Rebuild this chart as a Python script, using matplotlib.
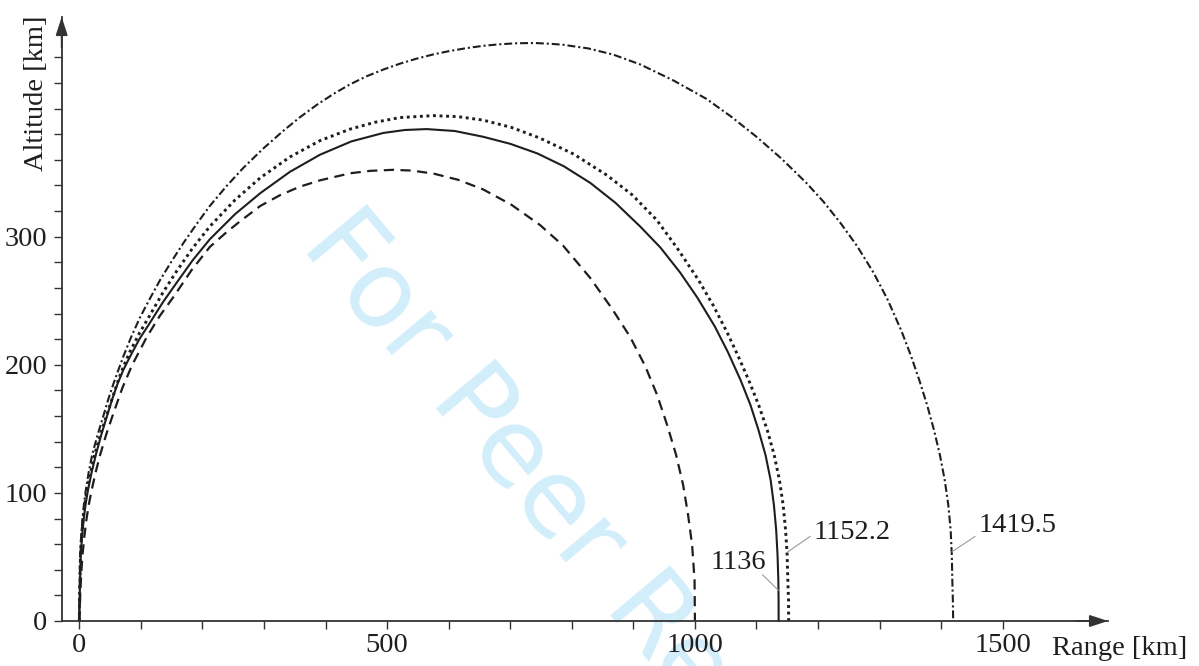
import matplotlib
matplotlib.use("Agg")
import matplotlib.pyplot as plt
from matplotlib.ticker import FixedLocator

# trajectory samples, range [km] vs altitude [km]
range_a = [0, 1, 2, 3.5, 5.5, 8.2, 11.5, 15.5, 20, 26.5, 34, 44, 56, 70, 86, 110,
           130.5, 153, 182.5, 212, 236.5, 261, 294, 326, 358, 391, 440, 472.5, 510,
           540, 575, 615.5, 656, 702, 748.4, 785.7, 829.6, 865.3, 894.6, 919, 938.5,
           954.8, 969.4, 980.8, 988.9, 995.4, 999.4, 1000]
alt_a = [0, 13, 26, 40, 53, 66, 79, 91, 102, 116, 130, 146, 163, 182, 200, 222,
         238, 253, 274, 292, 302.4, 312, 324, 332.4, 339, 344, 349.5, 351.4, 352.2,
         351.6, 349.3, 344.4, 336.9, 324.9, 309.1, 293.1, 268, 243.8, 221.9, 199.2,
         176.6, 153.1, 129.7, 106.3, 82.8, 59.4, 32, 0]

range_b = [0, 0.3, 1, 1.7, 2.5, 4.5, 7, 10.2, 14, 20, 27, 35.5, 45, 53, 62, 71.5,
           82, 97.5, 115, 136, 158, 184, 212, 253, 294, 342, 391, 442, 494, 529, 564,
           610, 656, 700, 744, 787, 830, 871, 911, 944, 976, 1004, 1032.2, 1053.3,
           1074.2, 1090.3, 1103.3, 1114.7, 1123, 1128.3, 1132, 1134.2, 1135.5,
           1135.9, 1136]
alt_b = [0, 13, 26, 40, 53, 66, 79, 91, 102, 116, 130, 145, 160, 172.5, 185, 196,
         206, 220, 233, 249, 264, 281.5, 298, 317.6, 334, 350.6, 364, 374.4, 381,
         383.3, 384, 382.5, 378, 372.5, 365, 355, 342, 326.4, 308, 291.5, 272,
         252.4, 230, 210.2, 188, 168.5, 149, 129.5, 110, 90.5, 71, 51.5, 32, 16, 0]

range_c = [0, 0.3, 0.8, 1.3, 2, 3.7, 6, 9, 12.5, 18.3, 25, 34, 44, 54, 64, 72.5,
           82, 98, 115, 136, 158, 184, 212, 253, 294, 342, 391, 440, 480, 521, 575,
           615, 656, 702, 748, 803, 857, 898, 938, 971, 1006, 1029.7, 1052.6, 1070.5,
           1087.4, 1103.6, 1117.6, 1128.8, 1137.3, 1143.3, 1147.3, 1149.8, 1150.9,
           1152.1, 1152.2]
alt_c = [0, 13, 26, 40, 53, 66, 79, 91, 102, 116, 130, 145, 160, 174.5, 189, 199.5,
         210, 225, 239, 256.5, 273, 291, 308, 328.7, 346, 362.2, 375, 384, 389.3,
         393, 394.5, 393.7, 391, 385.3, 377, 364.5, 348, 332.7, 313, 291.2, 266,
         246.4, 225, 206.5, 188, 168.5, 149, 129.5, 110, 90.5, 71, 51.5, 32, 16, 0]

range_d = [0, 0.15, 0.5, 0.9, 1.5, 3, 5, 7.5, 10.5, 15.2, 21, 29.5, 39, 47, 56,
           63.5, 71.5, 84.5, 98.6, 114.5, 131, 149.5, 169, 190, 212, 239, 266, 298.5,
           331, 358.5, 386, 413, 440, 467, 494, 521, 548, 575, 602, 629, 656, 683,
           710, 740, 765, 786, 826.5, 867, 911, 965, 1019, 1059.5, 1100, 1140.5,
           1181, 1208.5, 1236, 1263, 1290, 1312.5, 1335, 1350.6, 1364.5, 1377.2,
           1388.4, 1398, 1405.8, 1411.6, 1415.4, 1417.3, 1418.1, 1419, 1419.5]
alt_d = [0, 13, 26, 40, 53, 66, 79, 91, 102, 116, 130, 145, 160, 173, 186, 196,
         206.5, 222, 237, 251.5, 266, 280.5, 295, 309.5, 324, 339.4, 353.5, 368.7,
         382.5, 393.3, 403, 411.5, 419, 425.3, 430.5, 435.1, 439, 442.3, 445, 447.2,
         449, 450.2, 451, 451.2, 450.6, 449.8, 447, 442.2, 434.5, 422, 407.5, 393.5,
         378, 361, 342, 327.5, 311, 293, 272, 251.4, 227, 207.5, 188, 168.5, 149,
         129.5, 110, 90.5, 71, 51.5, 32, 16, 0]

# impact labels: text, leader start on curve, leader end, text centre
impact_labels = ["1136", "1152.2", "1419.5"]
leader_from = [(1135.5, 24), (1151, 54), (1417.5, 54)]
leader_to = [(1110, 36), (1187, 66), (1455, 66)]
label_at = [(1070, 46), (1255, 68.8), (1524, 74.2)]

ink = "#1e1e1e"
axis_col = "#333333"
serif = "Liberation Serif"
fs = 20.5

fig = plt.figure(figsize=(11.99, 6.66), dpi=100)
ax = fig.add_axes([61.7 / 1199, 1 - 621 / 666, (1108 - 61.7) / 1199, (621 - 17) / 666])
ax.set_xlim(-28.6, 1671)
ax.set_ylim(0, 471.5)

fig.text(300 / 1199, 1 - 246 / 666, "For Peer Review", rotation=-50,
         rotation_mode="anchor", ha="left", va="baseline", fontsize=77,
         color="#d2eefa", family="DejaVu Sans", zorder=0)
ax.set_zorder(1)
ax.patch.set_alpha(0)

ax.plot(range_a, alt_a, color=ink, lw=1.6, dashes=(4.6, 2.9), clip_on=False)
ax.plot(range_b, alt_b, color=ink, lw=1.5, clip_on=False)
ax.plot(range_c, alt_c, color=ink, lw=2.1, dashes=(1.0, 1.25), clip_on=False,
        dash_capstyle="butt")
ax.plot(range_d, alt_d, color=ink, lw=1.5, dashes=(3.8, 1.4, 1.0, 1.4), clip_on=False)

for txt, p0, p1, pt in zip(impact_labels, leader_from, leader_to, label_at):
    ax.plot([p0[0], p1[0]], [p0[1], p1[1]], color="#9a9a9a", lw=0.8)
    ax.text(pt[0], pt[1], txt, ha="center", va="center", fontsize=fs,
            family=serif, color=ink)

for side in ("top", "right"):
    ax.spines[side].set_visible(False)
for side in ("left", "bottom"):
    ax.spines[side].set_color(axis_col)
    ax.spines[side].set_linewidth(1.3)

ax.xaxis.set_major_locator(FixedLocator([0, 500, 1000, 1500]))
ax.xaxis.set_minor_locator(FixedLocator(list(range(100, 1500, 100))))
ax.yaxis.set_major_locator(FixedLocator([0, 100, 200, 300]))
ax.yaxis.set_minor_locator(FixedLocator(list(range(20, 460, 20))))
ax.tick_params(which="both", direction="out", length=5.5, width=1.0,
               color=axis_col, labelsize=fs, labelcolor=ink)
ax.tick_params(axis="x", pad=3.5)
ax.tick_params(axis="y", pad=5)
for lab in ax.get_xticklabels() + ax.get_yticklabels():
    lab.set_family(serif)

arrow = dict(arrowstyle="-|>,head_length=1.1,head_width=0.36", color=axis_col,
             lw=1.3, shrinkA=0, shrinkB=0, mutation_scale=10)
ax.annotate("", xy=(1, 0), xytext=(0.97, 0), xycoords="axes fraction",
            arrowprops=arrow)
ax.annotate("", xy=(0, 1), xytext=(0, 0.95), xycoords="axes fraction",
            arrowprops=arrow)

fig.text(36.7 / 1199, 1 - 93 / 666, "Altitude [km]", rotation=90, ha="center",
         va="center", fontsize=fs, family=serif, color=ink)
fig.text(1052 / 1199, 1 - 655 / 666, "Range [km]", ha="left", va="baseline",
         fontsize=fs, family=serif, color=ink)

fig.savefig("out.png", dpi=100)
